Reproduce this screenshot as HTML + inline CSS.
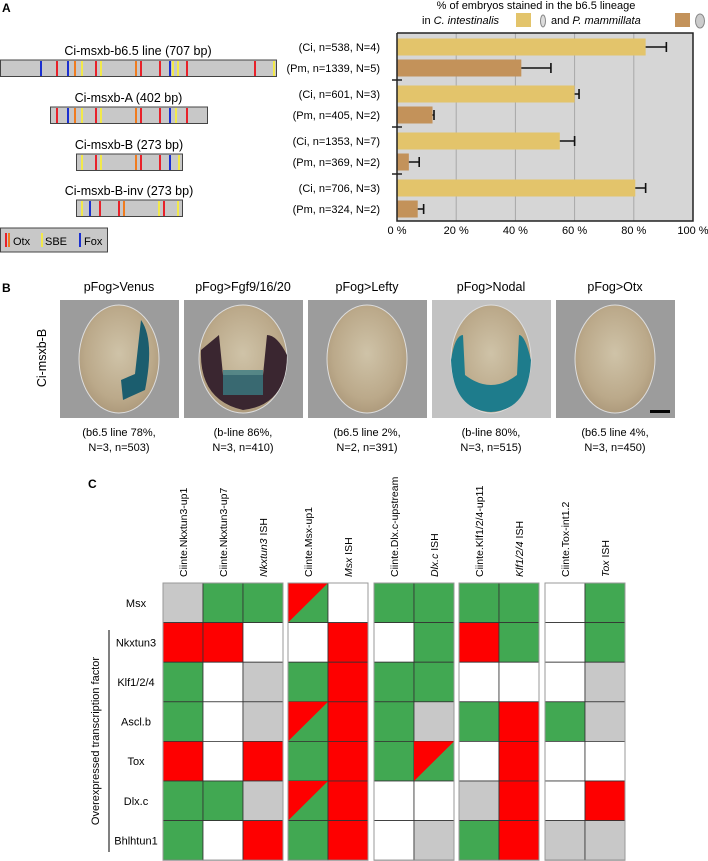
<!DOCTYPE html>
<html><head><meta charset="utf-8"><style>
body{margin:0;background:#fff;}
svg{display:block;font-family:"Liberation Sans",sans-serif;}
</style></head><body>
<svg id="fig" width="708" height="861" viewBox="0 0 708 861">
<defs>
<radialGradient id="emb" cx="50%" cy="45%" r="60%">
<stop offset="0" stop-color="#cfc3a8"/><stop offset="0.7" stop-color="#bba98a"/><stop offset="1" stop-color="#a99577"/>
</radialGradient>
</defs>
<text x="2" y="12" font-size="12" font-weight="bold">A</text>
<text x="2" y="292" font-size="12" font-weight="bold">B</text>
<text x="88" y="488" font-size="12" font-weight="bold">C</text>
<g id="constructs"></g>
<g id="chartA"></g>
<g id="panelB"></g>
<g id="grid"></g>
</svg>
<script>
const NS='http://www.w3.org/2000/svg';
function mk(tag,attrs,parent,text){const e=document.createElementNS(NS,tag);for(const k in attrs)e.setAttribute(k,attrs[k]);if(text!==undefined)e.textContent=text;parent.appendChild(e);return e;}
const COL={r:'#e8212a',o:'#f07b1f',y:'#f2e94a',b:'#1a2fd0'};
// ---------- Panel A constructs ----------
const constructNames=['Ci-msxb-b6.5 line (707 bp)','Ci-msxb-A (402 bp)','Ci-msxb-B (273 bp)','Ci-msxb-B-inv (273 bp)'];
const constructSites=[
 [['b',40],['r',56],['b',67],['o',74],['y',81],['r',95],['y',100],['o',135],['r',140],['r',159],['b',169],['y',172],['y',177],['r',186],['r',254],['y',273]],
 [['r',56],['b',67],['o',74],['y',81],['r',95],['y',100],['o',135],['r',140],['r',159],['b',169],['y',175],['r',186]],
 [['y',81],['r',95],['y',100],['o',135],['r',140],['r',159],['b',169],['y',178]],
 [['y',81],['b',89],['r',99],['r',118],['o',123],['y',158],['r',163],['y',177]]];
const cBox=[[0,276,60],[50,207,107],[76,182,154],[76,182,200]];
const cg=document.getElementById('constructs');
constructNames.forEach((n,i)=>{
 const [x0,x1,y]=cBox[i];
 const t=mk('text',{x:(x0+x1)/2,y:y-5,'font-size':'12.5','text-anchor':'middle'},cg,n);
 
 const r=mk('rect',{x:x0+0.5,y:y,width:x1-x0,height:16.5,fill:'#c8c8c8',stroke:'#444','stroke-width':1},cg);
 
 constructSites[i].forEach(s=>{const l=mk('rect',{x:s[1],y:y+1,width:2,height:15,fill:COL[s[0]]},cg);
  });
});
{const r=mk('rect',{x:0.5,y:228,width:107,height:24,fill:'#c8c8c8',stroke:'#444'},cg);
 
 mk('rect',{x:5,y:233,width:2,height:14,fill:COL.r},cg);mk('rect',{x:8,y:233,width:2,height:14,fill:COL.o},cg);
 mk('text',{x:13,y:245,'font-size':'11'},cg,'Otx');
 mk('rect',{x:41,y:233,width:2,height:14,fill:COL.y},cg);mk('text',{x:45,y:245,'font-size':'11'},cg,'SBE');
 mk('rect',{x:79,y:233,width:2,height:14,fill:COL.b},cg);mk('text',{x:84,y:245,'font-size':'11'},cg,'Fox');}
// ---------- Panel A chart ----------
const barLabels=['(Ci, n=538, N=4)','(Pm, n=1339, N=5)','(Ci, n=601, N=3)','(Pm, n=405, N=2)','(Ci, n=1353, N=7)','(Pm, n=369, N=2)','(Ci, n=706, N=3)','(Pm, n=324, N=2)'];
const barSpecies=['Ci','Pm','Ci','Pm','Ci','Pm','Ci','Pm'];
const barValues=[84,42,60,12,55,4,80.5,7];
const barErrors=[7,10,1.5,0.5,5,3.5,3.5,2];
const xTicks=[0,20,40,60,80,100];
const ch=document.getElementById('chartA');
const PX0=397,PX1=693,PY0=33,PY1=221;
const xs=v=>PX0+(PX1-PX0)*v/100;
const rowY=i=>47+Math.floor(i/2)*47+(i%2)*21;
{const bg=mk('rect',{x:PX0,y:PY0,width:PX1-PX0,height:PY1-PY0,fill:'#d6d6d6'},ch);
 }
xTicks.forEach(t=>{if(t>0&&t<100){const l=mk('line',{x1:xs(t),x2:xs(t),y1:PY0,y2:PY1,stroke:'#a8a8a8','stroke-width':1},ch);
 }
 const tx=mk('text',{x:xs(t),y:234,'font-size':'11','text-anchor':'middle'},ch,t+' %');
 });
barValues.forEach((v,i)=>{const y=rowY(i);
 const b=mk('rect',{x:PX0,y:y-8.5,width:xs(v)-PX0,height:17,fill:barSpecies[i]==='Ci'?'#e3c46b':'#c3925a'},ch);
 
 const e=xs(v+barErrors[i]);
 const el=mk('path',{d:`M${xs(v)},${y}H${e}M${e},${y-5}V${y+5}`,stroke:'#111','stroke-width':1.6,fill:'none'},ch);
 
 const t=mk('text',{x:380,y:y+4,'font-size':'11','text-anchor':'end'},ch,barLabels[i]);
 });
mk('path',{d:`M${PX0},${PY0}V${PY1}H${PX1}V${PY0}H${PX0}`,stroke:'#222','stroke-width':1.5,fill:'none'},ch);
[80,127,174].forEach(y=>mk('line',{x1:PX0-5,x2:PX0+5,y1:y,y2:y,stroke:'#222','stroke-width':1.5},ch));
{const t1=mk('text',{x:536,y:9,'font-size':'11','text-anchor':'middle'},ch,'% of embryos stained in the b6.5 lineage');
 
 const t2=mk('text',{x:422,y:24,'font-size':'11'},ch);
 t2.innerHTML='in <tspan font-style="italic">C. intestinalis</tspan>';
 const s1=mk('rect',{x:516,y:13,width:15,height:14,fill:'#e3c46b'},ch);
 mk('ellipse',{cx:543,cy:21,rx:2.5,ry:6,fill:'#ddd',stroke:'#888'},ch);
 const t3=mk('text',{x:551,y:24,'font-size':'11'},ch);t3.innerHTML='and <tspan font-style="italic">P. mammillata</tspan>';
 const s2=mk('rect',{x:675,y:13,width:15,height:14,fill:'#c3925a'},ch);
 mk('ellipse',{cx:700,cy:21,rx:4.5,ry:7,fill:'#ccc',stroke:'#888'},ch);}
// ---------- Panel B ----------
const bTitles=['pFog>Venus','pFog>Fgf9/16/20','pFog>Lefty','pFog>Nodal','pFog>Otx'];
const bCap1=['(b6.5 line 78%,','(b-line 86%,','(b6.5 line 2%,','(b-line 80%,','(b6.5 line 4%,'];
const bCap2=['N=3, n=503)','N=3, n=410)','N=2, n=391)','N=3, n=515)','N=3, n=450)'];
const bX=[60,184,308,432,556];
const pb=document.getElementById('panelB');
{const t=mk('text',{x:0,y:0,'font-size':'12.5','text-anchor':'middle',transform:'translate(46,358) rotate(-90)'},pb,'Ci-msxb-B');
 }
bTitles.forEach((n,i)=>{const x=bX[i],cx=x+59;
 const t=mk('text',{x:cx,y:291,'font-size':'12.5','text-anchor':'middle'},pb,n);
 const r=mk('rect',{x:x,y:300,width:119,height:118,fill:i===3?'#c2c2c2':'#9c9c9c'},pb);
 mk('ellipse',{cx:cx,cy:359,rx:i===1?44:40,ry:54,fill:'url(#emb)',stroke:'#ddd','stroke-width':1},pb);
 if(i===0){mk('path',{d:`M${cx+22},${320} q14,20 4,70 l-22,10 l-2,-20 l14,-6 z`,fill:'#1b5d6e'},pb);}
 if(i===1){mk('path',{d:`M${cx-42},${350} q-2,50 42,60 q44,-5 44,-55 q-10,-20 -20,-20 l-4,40 l-40,0 l-4,-40 z`,fill:'#3a2630'},pb);
   mk('rect',{x:cx-20,y:370,width:40,height:25,fill:'#3a7a82',opacity:0.8},pb);}
 if(i===3){mk('path',{d:`M${cx-40},${360} q2,50 40,52 q38,-2 40,-52 q-6,-25 -12,-25 l-2,40 q-26,20 -52,0 l-2,-40 q-8,0 -12,25 z`,fill:'#1e7c8c'},pb);}
 const c1=mk('text',{x:cx,y:436,'font-size':'11','text-anchor':'middle'},pb,bCap1[i]);
 const c2=mk('text',{x:cx,y:451,'font-size':'11','text-anchor':'middle'},pb,bCap2[i]);});
mk('rect',{x:650,y:410,width:20,height:3,fill:'#000'},pb);
// ---------- Panel C ----------
const colLabels=['Ciinte.Nkxtun3-up1','Ciinte.Nkxtun3-up7','|Nkxtun3| ISH','Ciinte.Msx-up1','|Msx| ISH','Ciinte.Dlx.c-upstream','|Dlx.c| ISH','Ciinte.Klf1/2/4-up11','|Klf1/2/4| ISH','Ciinte.Tox-int1.2','|Tox| ISH'];
const rowLabels=['Msx','Nkxtun3','Klf1/2/4','Ascl.b','Tox','Dlx.c','Bhlhtun1'];
const cellStates=[
 'XGG DW GG GG WG','RRW WR WG RG WG','GWX GR GG WW WX','GWX DR GX GR GX','RWR GR GD WR WW','GGX DR WW XR WR','GWR GR WX GR XX'];
const groupX=[163,288,374,459,545];
const groupSize=[3,2,2,2,2];
const gg=document.getElementById('grid');
const CW=40,RH=39.6,GY=583;
const FILL={G:'#41a852',R:'#fe0000',W:'#ffffff',X:'#c8c8c8'};
const colX=[];groupSize.forEach((n,g)=>{for(let k=0;k<n;k++)colX.push(groupX[g]+k*CW);});
colLabels.forEach((l,c)=>{const t=mk('text',{x:0,y:0,'font-size':'10.5','transform':`translate(${colX[c]+CW/2+4},577) rotate(-90)`},gg);
 
 const p=l.split('|');if(p.length>1){t.innerHTML=`<tspan font-style="italic">${p[1]}</tspan>${p[2]}`;}else t.textContent=l;});
cellStates.forEach((row,r)=>{const st=row.replace(/ /g,'');const y=GY+r*RH;
 const rl=mk('text',{x:136,y:y+RH/2+4,'font-size':'11','text-anchor':'middle'},gg,rowLabels[r]);
 
 [...st].forEach((s,c)=>{const x=colX[c];
  if(s==='D'){const a=mk('rect',{x:x,y:y,width:CW,height:RH,fill:FILL.G,stroke:'#333','stroke-width':0.8},gg);
   
   mk('path',{d:`M${x},${y}H${x+CW}L${x},${y+RH}Z`,fill:FILL.R},gg);}
  else{const a=mk('rect',{x:x,y:y,width:CW,height:RH,fill:FILL[s],stroke:'#333','stroke-width':0.8},gg);
   }
 });});
groupX.forEach((x,g)=>mk('rect',{x:x,y:GY,width:groupSize[g]*CW,height:RH*7,fill:'none',stroke:'#999','stroke-width':1},gg));
mk('line',{x1:109,x2:109,y1:630,y2:852,stroke:'#000','stroke-width':1},gg);
{const t=mk('text',{x:0,y:0,'font-size':'11','text-anchor':'middle',transform:'translate(99,741) rotate(-90)'},gg,'Overexpressed transcription factor');
 }
</script>
</body></html>
